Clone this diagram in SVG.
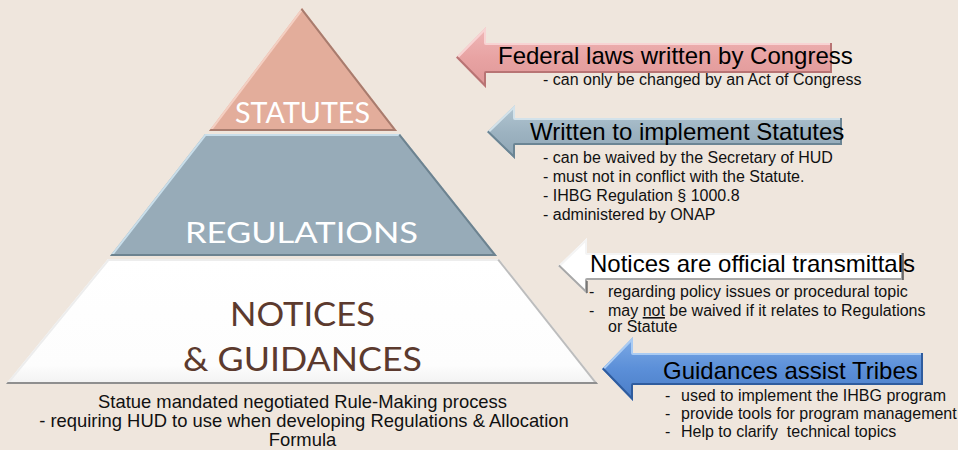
<svg xmlns="http://www.w3.org/2000/svg" width="958" height="450" viewBox="0 0 958 450">
  <defs>
    <style>
      .tier { font-family: Lato, "Open Sans", sans-serif; text-anchor: middle; }
      .head { font-family: "Liberation Sans", Arial, sans-serif; font-size: 24px; fill: #000; }
      .note { font-family: "Liberation Sans", Arial, sans-serif; font-size: 16px; fill: #111; }
      .cap { font-family: "Liberation Sans", Arial, sans-serif; font-size: 18.4px; fill: #111; text-anchor: middle; }
      .hi { fill: none; stroke-width: 4; stroke-linejoin: round; }
    </style>
    <!-- pyramid tier outlines -->
    <path id="tierTop" d="M302,8 L397,131 L209,131 Z"/>
    <path id="tierMid" d="M205,134 L400,134 L497,256 L110,256 Z"/>
    <path id="tierBase" d="M108,259 L499,259 L598,384 L6,384 Z"/>
    <!-- block arrow outlines -->
    <path id="arrFed" d="M456,57.5 L486,27 L486,43 L832,43 L832,73 L486,73 L486,88 Z"/>
    <path id="arrReg" d="M487,132 L515,105 L515,118 L842,118 L842,145 L515,145 L515,159 Z"/>
    <path id="arrNot" d="M558,266 L587,238 L587,253 L903,253 L903,280 L587,280 L587,294 Z"/>
    <path id="arrGui" d="M602,369 L633,337 L633,353 L923,353 L923,385 L633,385 L633,401 Z"/>
    <clipPath id="cTop"><use href="#tierTop"/></clipPath>
    <clipPath id="cMid"><use href="#tierMid"/></clipPath>
    <clipPath id="cBase"><use href="#tierBase"/></clipPath>
    <clipPath id="cFed"><use href="#arrFed"/></clipPath>
    <clipPath id="cReg"><use href="#arrReg"/></clipPath>
    <clipPath id="cNot"><use href="#arrNot"/></clipPath>
    <clipPath id="cGui"><use href="#arrGui"/></clipPath>
    <linearGradient id="gFed" x1="0" y1="0" x2="0" y2="1">
      <stop offset="0" stop-color="#EFB8B8"/>
      <stop offset="0.5" stop-color="#E8A3A3"/>
      <stop offset="1" stop-color="#DE9696"/>
    </linearGradient>
    <linearGradient id="gReg" x1="0" y1="0" x2="0" y2="1">
      <stop offset="0" stop-color="#B2C6D2"/>
      <stop offset="0.5" stop-color="#9DB3C1"/>
      <stop offset="1" stop-color="#8EA5B4"/>
    </linearGradient>
    <linearGradient id="gGui" x1="0" y1="0" x2="0" y2="1">
      <stop offset="0" stop-color="#7DAAE6"/>
      <stop offset="0.5" stop-color="#5B8FD8"/>
      <stop offset="1" stop-color="#4A7CC6"/>
    </linearGradient>
    <linearGradient id="gBase" x1="0" y1="0" x2="0" y2="1">
      <stop offset="0" stop-color="#FFFFFF"/>
      <stop offset="0.85" stop-color="#FDFDFD"/>
      <stop offset="1" stop-color="#F2F2F2"/>
    </linearGradient>
  </defs>

  <rect width="958" height="450" fill="#EFE6DD"/>

  <!-- pyramid: top tier -->
  <g id="statutes">
    <use href="#tierTop" fill="#E3AD9B"/>
    <g clip-path="url(#cTop)">
      <polyline class="hi" points="209,131 302,8" stroke="#F4CFC2"/>
      <polyline class="hi" points="302,8 397,131 209,131" stroke="#A87C6E"/>
    </g>
    <text class="tier" x="302.5" y="123" font-size="29.5" fill="#FFFFFF" textLength="135" lengthAdjust="spacingAndGlyphs">STATUTES</text>
  </g>

  <!-- pyramid: middle tier -->
  <g id="regulations">
    <use href="#tierMid" fill="#97ABB8"/>
    <g clip-path="url(#cMid)">
      <polyline class="hi" points="110,256 205,134 400,134" stroke="#C9DEEA"/>
      <polyline class="hi" points="400,134 497,256 110,256" stroke="#6D8390"/>
    </g>
    <text class="tier" x="301.5" y="243" font-size="29.5" fill="#FFFFFF" textLength="233" lengthAdjust="spacingAndGlyphs">REGULATIONS</text>
  </g>

  <!-- pyramid: base tier -->
  <g id="notices-guidances">
    <use href="#tierBase" fill="url(#gBase)"/>
    <g clip-path="url(#cBase)">
      <polyline class="hi" points="6,384 108,259 499,259" stroke="#EDEDED"/>
      <polyline class="hi" points="499,259 598,384" stroke="#BDBDBD"/>
      <polyline class="hi" points="598,384 6,384" stroke="#8F8F8F"/>
    </g>
    <text class="tier" x="302.5" y="326" font-size="32" fill="#5C3A2E" textLength="145" lengthAdjust="spacingAndGlyphs">NOTICES</text>
    <text class="tier" x="302.5" y="371" font-size="32" fill="#5C3A2E" textLength="239" lengthAdjust="spacingAndGlyphs">&amp; GUIDANCES</text>
  </g>

  <!-- caption under the pyramid -->
  <g id="rule-making">
    <text class="cap" x="302.5" y="407.5">Statue mandated negotiated Rule-Making process</text>
    <text class="cap" x="304" y="426.5">- requiring HUD to use when developing Regulations &amp; Allocation</text>
    <text class="cap" x="302.5" y="445.5">Formula</text>
  </g>

  <!-- block arrows pointing back at the tiers -->
  <g id="connectors">
    <g id="arrow-federal">
      <use href="#arrFed" fill="url(#gFed)"/>
      <g clip-path="url(#cFed)">
        <polyline class="hi" points="456,57.5 486,27 486,43 832,43" stroke="#F8D3D3"/>
        <polyline class="hi" points="832,43 832,73 486,73 486,88 456,57.5" stroke="#B87474"/>
      </g>
    </g>
    <g id="arrow-regulations">
      <use href="#arrReg" fill="url(#gReg)"/>
      <g clip-path="url(#cReg)">
        <polyline class="hi" points="487,132 515,105 515,118 842,118" stroke="#D3E2EA"/>
        <polyline class="hi" points="842,118 842,145 515,145 515,159 487,132" stroke="#6B8594"/>
      </g>
    </g>
    <g id="arrow-notices">
      <use href="#arrNot" fill="#FFFFFF"/>
      <g clip-path="url(#cNot)">
        <polyline class="hi" points="558,266 587,238 587,253 903,253" stroke="#F4F4F4"/>
        <polyline class="hi" points="903,253 903,280 587,280 587,294 558,266" stroke="#A8A8A8"/>
      </g>
      <line x1="903" y1="253" x2="903" y2="280" stroke="#555" stroke-width="1.5"/>
      <line x1="587" y1="281" x2="587" y2="293" stroke="#555" stroke-width="1.2"/>
    </g>
    <g id="arrow-guidances">
      <use href="#arrGui" fill="url(#gGui)"/>
      <g clip-path="url(#cGui)">
        <polyline class="hi" points="602,369 633,337 633,353 923,353" stroke="#A9CBF3"/>
        <polyline class="hi" points="923,353 923,385 633,385 633,401 602,369" stroke="#2F5C9E"/>
      </g>
    </g>
  </g>

  <!-- callout texts -->
  <g id="federal-laws">
    <text class="head" x="498" y="64">Federal laws written by Congress</text>
    <text class="note" x="543" y="85">- can only be changed by an Act of Congress</text>
  </g>

  <g id="implement-statutes">
    <text class="head" x="530" y="140">Written to implement Statutes</text>
    <text class="note" x="543" y="163">- can be waived by the Secretary of HUD</text>
    <text class="note" x="543" y="182">- must not in conflict with the Statute.</text>
    <text class="note" x="543" y="201">- IHBG Regulation § 1000.8</text>
    <text class="note" x="543" y="220">- administered by ONAP</text>
  </g>

  <g id="notices-transmittals">
    <text class="head" x="590" y="272">Notices are official transmittals</text>
    <text class="note" x="589" y="297">-</text>
    <text class="note" x="608" y="297">regarding policy issues or procedural topic</text>
    <text class="note" x="589" y="316">-</text>
    <text class="note" x="608" y="316">may <tspan text-decoration="underline">not</tspan> be waived if it relates to Regulations</text>
    <text class="note" x="608" y="332">or Statute</text>
  </g>

  <g id="guidances-tribes">
    <text class="head" x="663" y="379">Guidances assist Tribes</text>
    <text class="note" x="665" y="401">-</text>
    <text class="note" x="681" y="401">used to implement the IHBG program</text>
    <text class="note" x="665" y="419">-</text>
    <text class="note" x="681" y="419">provide tools for program management</text>
    <text class="note" x="665" y="437">-</text>
    <text class="note" x="681" y="437">Help to clarify&#160; technical topics</text>
  </g>
</svg>
